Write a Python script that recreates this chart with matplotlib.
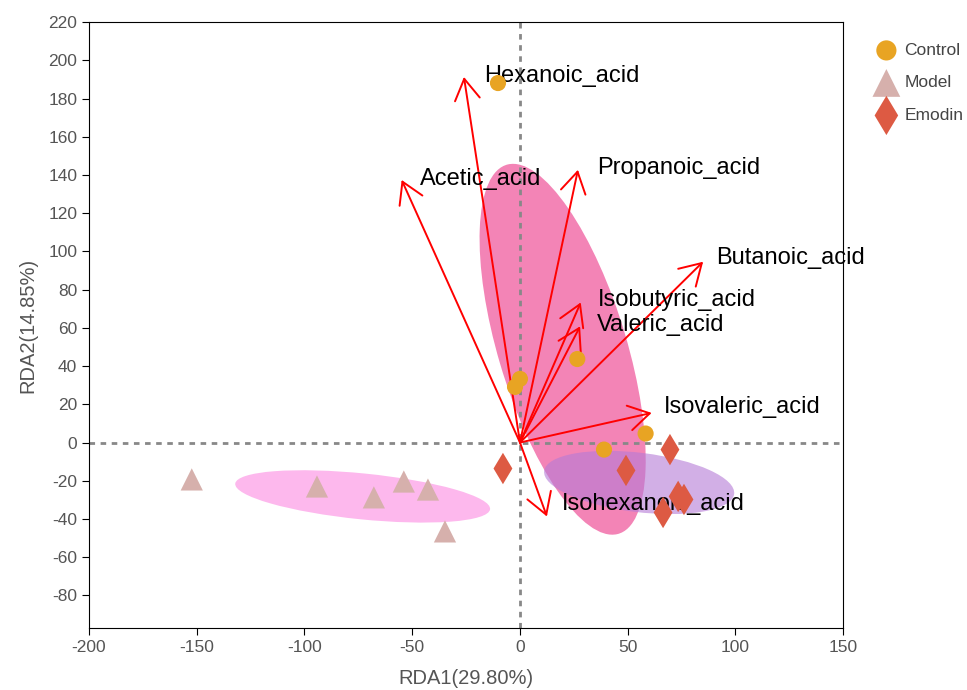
import matplotlib
matplotlib.use("Agg")
import matplotlib.pyplot as plt
from matplotlib.patches import Ellipse, FancyArrowPatch

plt.rcParams['font.family'] = ['Liberation Sans', 'DejaVu Sans']
plt.rcParams['axes.unicode_minus'] = False

# sample scores
controlX = [-10.2, 0.0, -2.3, 26.6, 58.3, 39.0]
controlY = [188.1, 33.3, 29.1, 43.7, 4.7, -3.7]
modelX = [-152.3, -94.2, -67.8, -53.9, -42.7, -34.8]
modelY = [-19.3, -23.0, -28.7, -20.4, -24.6, -46.5]
emodinX = [-7.9, 49.2, 69.6, 73.4, 76.1, 66.4]
emodinY = [-13.6, -14.6, -3.7, -28.2, -29.8, -36.6]

# environmental factor arrows
acids = ["Hexanoic_acid", "Acetic_acid", "Propanoic_acid", "Butanoic_acid",
         "Isobutyric_acid", "Valeric_acid", "Isovaleric_acid", "Isohexanoic_acid"]
arrowX = [-26.0, -54.9, 26.9, 85.0, 28.2, 27.9, 61.1, 12.5]
arrowY = [191.3, 137.4, 142.7, 94.6, 73.3, 60.8, 15.5, -38.7]
labelX = [-16.7, -46.4, 35.7, 91.0, 36.2, 35.7, 66.9, 19.5]
labelY = [191.8, 138.0, 143.7, 96.7, 74.7, 61.7, 18.8, -32.4]

# group ellipses: center x, center y, width, height, angle (data units)
ellControl = (19.8, 48.8, 200, 60, -75.3)
ellModel = (-73.0, -28.2, 119, 24, -6.5)
ellEmodin = (55.3, -20.9, 89, 31, -8.0)

fig = plt.figure(figsize=(9.67, 6.9), dpi=100)
ax = fig.add_axes([0.092, 0.09, 0.78, 0.878])

def addEllipse(e, color, alpha):
    ax.add_patch(Ellipse((e[0], e[1]), e[2], e[3], angle=e[4],
                         facecolor=color, edgecolor='none', alpha=alpha, zorder=1))

addEllipse(ellModel, '#fdb4ec', 0.95)
addEllipse(ellControl, '#ee5097', 0.7)
addEllipse(ellEmodin, '#b57ad6', 0.6)

ax.axhline(0, color='#888888', lw=2, ls=(0, (2, 2)), zorder=2)
ax.axvline(0, color='#888888', lw=2, ls=(0, (2, 2)), zorder=2)

for i in range(len(acids)):
    arr = FancyArrowPatch((0, 0), (arrowX[i], arrowY[i]),
                          arrowstyle='->,head_length=0.75,head_width=0.45',
                          mutation_scale=20, color='red', lw=1.4,
                          shrinkA=0, shrinkB=0, zorder=3)
    ax.add_patch(arr)
    ax.text(labelX[i], labelY[i], acids[i], fontsize=17, ha='left', va='center',
            color='black', zorder=4)

ax.scatter(controlX, controlY, s=135, marker='o', color='#e8a423',
           edgecolors='none', zorder=5, label='Control')
ax.scatter(modelX, modelY, s=256, marker='^', color='#d6b0ac',
           edgecolors='none', zorder=5, label='Model')
ax.scatter(emodinX, emodinY, s=256, marker='d', color='#dd5a43',
           edgecolors='none', zorder=5, label='Emodin')

ax.set_xlim(-200, 150)
ax.set_ylim(-97, 220)
ax.set_xticks(range(-200, 151, 50))
ax.set_yticks(range(-80, 221, 20))
ax.tick_params(direction='out', length=5, labelsize=12.5, labelcolor='#555555')
ax.set_xlabel("RDA1(29.80%)", fontsize=14.5, color='#555555', labelpad=10)
ax.set_ylabel("RDA2(14.85%)", fontsize=14.5, color='#555555', labelpad=8)

fig.legend(loc='upper left', bbox_to_anchor=(0.8915, 0.948), frameon=False,
           fontsize=12.5, labelcolor='#444444', handletextpad=0.05,
           labelspacing=1.0, borderaxespad=0, markerscale=1.25)

fig.savefig("out.png", dpi=100)
